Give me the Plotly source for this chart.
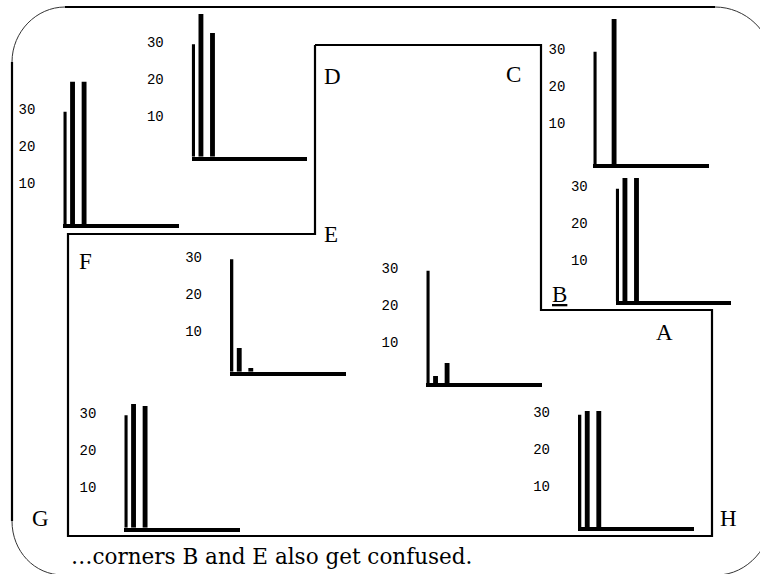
import plotly.graph_objects as go

W, H = 760, 574

# ---- data -------------------------------------------------------------
# Histogram readings taken at each corner of the room (two bins each)
corners = ["F", "D", "C", "A", "E", "B", "G", "H"]
bin_positions = [1, 2]
bin1_counts = [38.5, 38.6, 0.0, 33.3, 6.4, 2.0, 33.4, 31.4]
bin2_counts = [38.5, 33.4, 39.3, 33.3, 1.0, 5.5, 32.9, 31.4]
tick_values = [10, 20, 30]
tick_text = ["10", "20", "30"]
axis_top = 30.4  # height reached by each small vertical axis

# Room outline, walked D -> C -> B -> A -> H -> G -> F -> E -> D
room_x = [315, 541, 541, 712, 712, 68, 68, 315, 315]
room_y = [45, 45, 310, 310, 536, 536, 234, 234, 45]

# Corner names written beside the outline
corner_names = ["D", "C", "<u>B</u>", "A", "H", "G", "F", "E"]
corner_name_x = [332, 513, 559, 664, 728, 40, 85, 331]
corner_name_y = [76, 74, 294, 332, 518, 518, 261, 234]

caption = "\u2026corners B and E also get confused."

# ---- layout of the small histograms (pixels on the page) ---------------
panel_left = {"F": 63.3, "D": 191.7, "C": 593.3, "A": 615.7,
              "E": 230.0, "B": 426.3, "G": 124.3, "H": 578.0}
panel_base = {"F": 224.3, "D": 156.7, "C": 164.3, "A": 301.3,
              "E": 371.7, "B": 383.3, "G": 527.7, "H": 527.3}
PANEL_W = 115.5
PX_PER_UNIT = 3.7
Y_MAX = 42
X_RANGE = [0.2, 10.2]
px_per_x = PANEL_W / (X_RANGE[1] - X_RANGE[0])

fig = go.Figure()

# Room outline on a page-sized base axis
fig.add_trace(go.Scatter(
    x=room_x, y=room_y, mode="lines",
    line=dict(color="black", width=2.2),
    hoverinfo="skip", cliponaxis=False,
    xaxis="x", yaxis="y",
))

layout_axes = {}
shapes = []

for i, name in enumerate(corners):
    k = i + 2
    left = panel_left[name]
    base = panel_base[name]
    top = base - Y_MAX * PX_PER_UNIT
    fig.add_trace(go.Bar(
        x=bin_positions,
        y=[bin1_counts[i], bin2_counts[i]],
        width=0.42,
        marker=dict(color="black", line=dict(width=0)),
        xaxis=f"x{k}", yaxis=f"y{k}",
        hoverinfo="skip",
    ))
    layout_axes[f"xaxis{k}"] = dict(
        domain=[left / W, (left + PANEL_W) / W],
        range=X_RANGE, anchor=f"y{k}",
        showline=True, linewidth=4, linecolor="black",
        showticklabels=False, ticks="", showgrid=False, zeroline=False,
        fixedrange=True,
    )
    layout_axes[f"yaxis{k}"] = dict(
        domain=[1 - base / H, 1 - top / H],
        range=[0, Y_MAX], anchor=f"x{k}",
        tickvals=tick_values, ticktext=tick_text,
        ticks="", showline=False, showgrid=False, zeroline=False,
        tickfont=dict(family="Liberation Mono", size=14, color="black"),
        ticklabelstandoff=27, ticklabelshift=-4,
        fixedrange=True,
    )
    # vertical axis stub of the histogram
    xv = X_RANGE[0] + 1.65 / px_per_x
    shapes.append(dict(
        type="line", xref=f"x{k}", yref=f"y{k}",
        x0=xv, x1=xv, y0=0, y1=axis_top,
        line=dict(color="black", width=3.3),
    ))

# Slide frame: straight edges plus rounded corners
frame = dict(color="black", width=2.2)
arc = dict(color="#333333", width=1)
shapes += [
    dict(type="line", xref="x", yref="y", x0=12, x1=12, y0=62, y1=521, line=frame),
    dict(type="line", xref="x", yref="y", x0=65, x1=715, y0=7, y1=7, line=frame),
    dict(type="path", xref="x", yref="y",
         path="M 12 62 C 12 31.6 36.6 7 65 7", line=arc),
    dict(type="path", xref="x", yref="y",
         path="M 715 7 C 745.4 7 772 31.6 772 62", line=arc),
    dict(type="path", xref="x", yref="y",
         path="M 772 516 C 772 546.4 747.4 575 717 575", line=arc),
    dict(type="path", xref="x", yref="y",
         path="M 12 521 C 12 551.4 34.6 575 63 575", line=arc),
]

annotations = []
for t, ax_, ay_ in zip(corner_names, corner_name_x, corner_name_y):
    annotations.append(dict(
        text=t, x=ax_, y=ay_, xref="x", yref="y", showarrow=False,
        xanchor="center", yanchor="middle",
        font=dict(family="Liberation Serif", size=23, color="black"),
    ))
annotations.append(dict(
    text=caption, x=69, y=556, xref="x", yref="y", showarrow=False,
    xanchor="left", yanchor="middle",
    font=dict(family="DejaVu Serif", size=21.5, color="black"),
))

fig.update_layout(
    width=W, height=H,
    margin=dict(l=0, r=0, t=0, b=0),
    paper_bgcolor="white", plot_bgcolor="rgba(0,0,0,0)",
    showlegend=False,
    xaxis=dict(domain=[0, 1], range=[0, W], visible=False, fixedrange=True),
    yaxis=dict(domain=[0, 1], range=[H, 0], visible=False, fixedrange=True),
    shapes=shapes,
    annotations=annotations,
    **layout_axes,
)

fig.write_html("out.html")
